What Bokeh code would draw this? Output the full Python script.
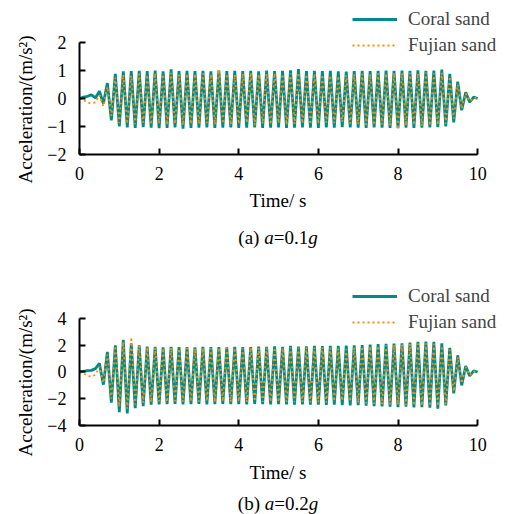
from bokeh.plotting import figure
from bokeh.layouts import column
from bokeh.models import (Range1d, Legend, LegendItem, Title, Div,
                          CustomJSTickFormatter, FixedTicker)
from bokeh.embed import file_html
from bokeh.resources import INLINE

# ---- data ----
time_s = [0.0, 0.1, 0.2, 0.3, 0.4, 0.5, 0.6, 0.7, 0.8, 0.9,
          1.0, 1.1, 1.2, 1.3, 1.4, 1.5, 1.6, 1.7, 1.8, 1.9,
          2.0, 2.1, 2.2, 2.3, 2.4, 2.5, 2.6, 2.7, 2.8, 2.9,
          3.0, 3.1, 3.2, 3.3, 3.4, 3.5, 3.6, 3.7, 3.8, 3.9,
          4.0, 4.1, 4.2, 4.3, 4.4, 4.5, 4.6, 4.7, 4.8, 4.9,
          5.0, 5.1, 5.2, 5.3, 5.4, 5.5, 5.6, 5.7, 5.8, 5.9,
          6.0, 6.1, 6.2, 6.3, 6.4, 6.5, 6.6, 6.7, 6.8, 6.9,
          7.0, 7.1, 7.2, 7.3, 7.4, 7.5, 7.6, 7.7, 7.8, 7.9,
          8.0, 8.1, 8.2, 8.3, 8.4, 8.5, 8.6, 8.7, 8.8, 8.9,
          9.0, 9.1, 9.2, 9.3, 9.4, 9.5, 9.6, 9.7, 9.8, 9.9, 10.0]

acc_a_coral = [0.00, 0.05, 0.08, 0.13, 0.02, 0.26, -0.18, 0.55, -0.78, 0.88,
               -1.00, 0.97, -1.03, 0.98, -1.05, 0.99, -1.02, 0.98, -1.04, 1.00,
               -1.06, 0.97, -1.05, 1.04, -1.03, 0.98, -1.08, 0.99, -1.05, 0.98,
               -1.04, 0.99, -1.03, 0.97, -1.05, 1.00, -1.04, 0.98, -1.03, 0.99,
               -1.05, 0.98, -1.04, 0.99, -1.03, 0.97, -1.05, 1.00, -1.04, 0.98,
               -1.03, 0.99, -1.05, 1.01, -1.04, 1.05, -1.03, 0.98, -1.04, 0.99,
               -1.05, 0.98, -1.03, 0.99, -1.04, 0.97, -1.02, 0.96, -1.03, 0.98,
               -1.04, 0.99, -1.05, 0.98, -1.03, 0.99, -1.04, 1.00, -1.05, 0.99,
               -1.06, 1.00, -1.04, 0.99, -1.05, 1.01, -1.04, 0.99, -1.03, 1.00,
               -1.02, 1.03, -1.00, 0.88, -0.85, 0.60, -0.42, 0.22, -0.13, 0.05, 0.00]

acc_a_fujian = [0.00, -0.05, -0.15, -0.17, -0.14, 0.12, -0.28, 0.42, -0.62, 0.75,
                -0.88, 0.85, -0.90, 0.82, -0.92, 0.88, -0.86, 0.84, -0.93, 0.90,
                -0.89, 0.86, -0.94, 0.92, -0.90, 0.85, -0.95, 0.88, -0.91, 0.87,
                -0.92, 0.90, -0.88, 0.86, -0.93, 1.02, -0.90, 0.88, -0.94, 0.85,
                -0.91, 0.89, -0.87, 0.92, -0.95, 0.86, -0.90, 0.88, -0.93, 0.90,
                -0.88, 0.87, -0.94, 0.90, -0.91, 0.92, -0.89, 0.86, -0.93, 0.88,
                -0.90, 0.85, -0.86, 0.82, -0.88, 0.80, -0.84, 0.83, -0.90, 0.86,
                -0.92, 0.88, -0.94, 0.87, -0.95, 0.90, -0.93, 0.89, -0.96, 0.91,
                -1.10, 0.90, -0.97, 0.92, -0.95, 0.89, -0.98, 0.93, -0.96, 0.90,
                -0.94, 0.92, -0.90, 0.78, -0.72, 0.50, -0.36, 0.18, -0.10, 0.03, 0.00]

acc_b_coral = [0.00, 0.05, 0.10, 0.12, 0.25, 0.65, -0.95, 1.50, -2.30, 2.00,
               -3.00, 2.40, -3.10, 2.15, -2.70, 2.00, -2.55, 1.90, -2.45, 1.88,
               -2.42, 1.85, -2.40, 1.88, -2.38, 1.86, -2.42, 1.87, -2.40, 1.85,
               -2.38, 1.88, -2.42, 1.86, -2.40, 1.87, -2.38, 1.85, -2.41, 1.88,
               -2.40, 1.86, -2.42, 1.87, -2.39, 1.90, -2.41, 1.88, -2.43, 1.92,
               -2.40, 1.88, -2.42, 1.95, -2.44, 1.90, -2.42, 1.92, -2.45, 1.95,
               -2.44, 1.93, -2.46, 1.95, -2.45, 1.96, -2.48, 1.97, -2.50, 2.00,
               -2.48, 2.02, -2.52, 2.05, -2.55, 2.08, -2.58, 2.10, -2.60, 2.12,
               -2.62, 2.15, -2.60, 2.20, -2.65, 2.25, -2.62, 2.28, -2.66, 2.25,
               -2.75, 2.15, -2.50, 1.80, -1.60, 1.25, -1.00, 0.45, -0.30, 0.08, 0.00]

acc_b_fujian = [0.00, -0.10, -0.28, -0.35, -0.20, 0.40, -0.80, 1.30, -2.00, 1.95,
                -2.60, 2.25, -2.75, 2.60, -2.45, 1.95, -2.30, 1.85, -2.25, 1.80,
                -2.20, 1.78, -2.25, 1.80, -2.18, 1.75, -2.22, 1.80, -2.20, 1.76,
                -2.22, 1.79, -2.18, 1.77, -2.24, 1.81, -2.20, 1.78, -2.23, 1.80,
                -2.21, 1.77, -2.25, 1.82, -2.20, 1.79, -2.24, 1.80, -2.22, 1.83,
                -2.25, 1.80, -2.23, 1.84, -2.26, 1.82, -2.24, 1.85, -2.27, 1.83,
                -2.25, 1.85, -2.28, 1.80, -2.20, 1.75, -2.15, 1.70, -2.20, 1.82,
                -2.30, 1.90, -2.35, 1.92, -2.38, 1.95, -2.40, 2.00, -2.42, 2.02,
                -2.45, 2.05, -2.48, 2.10, -2.50, 2.12, -2.52, 2.15, -2.55, 2.10,
                -2.55, 1.95, -2.40, 1.65, -1.45, 1.10, -0.85, 0.38, -0.25, 0.05, 0.00]

series_names = ["Coral sand", "Fujian sand"]
x_ticks = [0, 2, 4, 6, 8, 10]
y_ticks_a = [-2, -1, 0, 1, 2]
y_ticks_b = [-4, -2, 0, 2, 4]
caption_a = "(a) <i>a</i>=0.1<i>g</i>"
caption_b = "(b) <i>a</i>=0.2<i>g</i>"

FONT = "Liberation Serif"
TEAL = "#008B8B"
ORANGE = "#FF8C00"


def make_panel(coral, fujian, ylim, yticks, y_top, height, top, bottom,
               legend_y, ylabel_offset, xlabel_standoff):
    p = figure(width=505, height=height, output_backend="svg", toolbar_location=None,
               x_range=Range1d(0, 10.70), y_range=Range1d(ylim[0], y_top),
               min_border_left=79, min_border_right=0,
               min_border_top=top, min_border_bottom=bottom)
    p.outline_line_color = None
    p.xgrid.visible = False
    p.ygrid.visible = False

    r1 = p.line(time_s, coral, line_color=TEAL, line_width=2.8)
    r2 = p.line(time_s, fujian, line_color=ORANGE, line_width=1.8, line_dash="2 3")

    fmt = CustomJSTickFormatter(code="return (tick < 0 ? '\u2212' : '') + Math.abs(tick).toString();")
    for ax, ticks, bnds in ((p.xaxis[0], x_ticks, (0, 10)), (p.yaxis[0], yticks, ylim)):
        ax.ticker = FixedTicker(ticks=ticks)
        ax.bounds = bnds
        ax.formatter = fmt
        ax.minor_tick_line_color = None
        ax.major_tick_in = 6
        ax.major_tick_out = 0
        ax.axis_line_width = 2
        ax.major_tick_line_width = 2
        ax.axis_line_color = "black"
        ax.major_tick_line_color = "black"
        ax.major_label_text_font = FONT
        ax.major_label_text_font_size = "18px"
        ax.major_label_text_color = "black"
    p.xaxis.major_label_standoff = 12
    p.yaxis.major_label_standoff = 13

    # axis titles, positioned along the bounded axes
    p.add_layout(Title(text="Time/ s", align="left", offset=170, standoff=xlabel_standoff,
                       text_font=FONT, text_font_size="19px", text_font_style="normal",
                       text_color="black"), "below")
    p.add_layout(Title(text="Acceleration/(m/s\u00b2)", align="left", offset=ylabel_offset,
                       standoff=17, text_font=FONT, text_font_size="19px",
                       text_font_style="normal", text_color="black"), "left")

    legend = Legend(items=[LegendItem(label=series_names[0], renderers=[r1]),
                           LegendItem(label=series_names[1], renderers=[r2])],
                    location=(273, legend_y), glyph_width=45, glyph_height=22,
                    label_height=22, spacing=4, padding=0, margin=0, label_standoff=11,
                    border_line_alpha=0, background_fill_alpha=0,
                    label_text_font=FONT, label_text_font_size="19px")
    p.add_layout(legend)
    return p


def caption(text, height, line_height):
    return Div(text=text, width=398, height=height, margin=(0, 0, 0, 79),
               styles={"font-family": FONT, "font-size": "19px",
                       "line-height": "%dpx" % line_height, "text-align": "center",
                       "color": "black"})


pa = make_panel(acc_a_coral, acc_a_fujian, (-2, 2), y_ticks_a, 3.393, 226, 3, 72, 98, -29, 11)
pb = make_panel(acc_b_coral, acc_b_fujian, (-4, 4), y_ticks_b, 6.84, 242, 30, 67, 92, -31, 13)

layout = column(pa, caption(caption_a, 24, 24), pb, caption(caption_b, 22, 24), spacing=0)
open("out.html", "w").write(file_html(layout, INLINE))
